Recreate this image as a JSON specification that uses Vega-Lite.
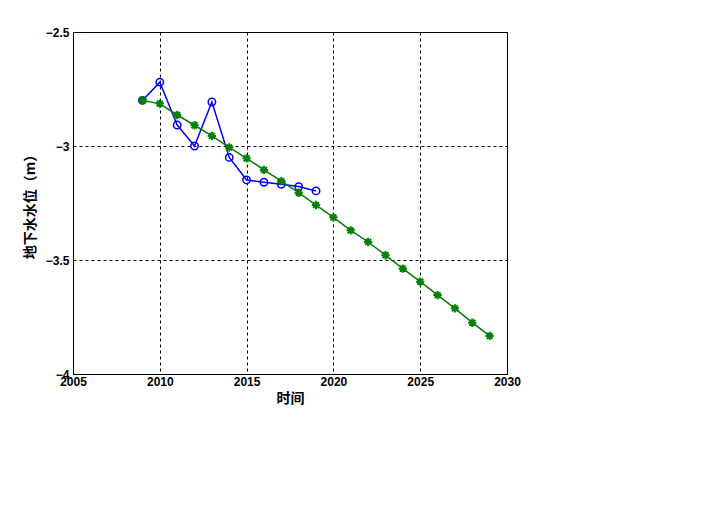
{
  "$schema": "https://vega.github.io/schema/vega-lite/v6.json",
  "autosize": "none",
  "padding": {"left": 73, "top": 32, "right": 194, "bottom": 152},
  "width": 434,
  "height": 342,
  "background": "white",
  "config": {
    "view": {"stroke": "black", "strokeWidth": 1},
    "axis": {
      "labelFont": "Liberation Sans", "labelFontWeight": "bold", "labelFontSize": 12, "labelColor": "black",
      "titleFont": "Noto Sans CJK SC", "titleFontWeight": "bold", "titleFontSize": 14, "titleColor": "black",
      "domainColor": "black", "tickColor": "black", "tickSize": 4,
      "gridColor": "black", "gridDash": [3, 3], "gridOpacity": 1, "gridWidth": 1,
      "labelFlush": false, "labelOverlap": false, "labelBound": false
    }
  },
  "datasets": {
    "obs": [
      {"year": 2009, "level": -2.80},
      {"year": 2010, "level": -2.72},
      {"year": 2011, "level": -2.908},
      {"year": 2012, "level": -3.0},
      {"year": 2013, "level": -2.807},
      {"year": 2014, "level": -3.05},
      {"year": 2015, "level": -3.149},
      {"year": 2016, "level": -3.159},
      {"year": 2017, "level": -3.168},
      {"year": 2018, "level": -3.178},
      {"year": 2019, "level": -3.197}
    ],
    "fit": [
      {"year": 2009, "level": -2.80},
      {"year": 2010, "level": -2.814},
      {"year": 2011, "level": -2.864},
      {"year": 2012, "level": -2.909},
      {"year": 2013, "level": -2.956},
      {"year": 2014, "level": -3.006},
      {"year": 2015, "level": -3.054},
      {"year": 2016, "level": -3.105},
      {"year": 2017, "level": -3.154},
      {"year": 2018, "level": -3.205},
      {"year": 2019, "level": -3.259},
      {"year": 2020, "level": -3.313},
      {"year": 2021, "level": -3.370},
      {"year": 2022, "level": -3.421},
      {"year": 2023, "level": -3.479},
      {"year": 2024, "level": -3.538},
      {"year": 2025, "level": -3.595},
      {"year": 2026, "level": -3.654},
      {"year": 2027, "level": -3.712},
      {"year": 2028, "level": -3.775},
      {"year": 2029, "level": -3.833}
    ]
  },
  "encoding": {
    "x": {"field": "year", "type": "quantitative",
      "scale": {"domain": [2005, 2030], "nice": false, "zero": false},
      "axis": {"title": "时间", "values": [2005, 2010, 2015, 2020, 2025, 2030], "format": "d", "grid": true, "ticks": false, "labelPadding": 2, "titlePadding": 4}},
    "y": {"field": "level", "type": "quantitative",
      "scale": {"domain": [-4, -2.5], "nice": false, "zero": false},
      "axis": {"title": "地下水水位（m）", "values": [-4, -3.5, -3, -2.5], "format": "~g", "grid": true, "ticks": false, "labelPadding": 4, "titlePadding": 8}}
  },
  "layer": [
    {"data": {"name": "obs"}, "mark": {"type": "line", "color": "#0000ff", "strokeWidth": 1.5}},
    {"data": {"name": "obs"}, "mark": {"type": "point", "shape": "circle", "filled": false, "color": "#0000ff", "size": 55, "strokeWidth": 1.5, "opacity": 1}},
    {"data": {"name": "fit"}, "mark": {"type": "line", "color": "#008000", "strokeWidth": 1.5}},
    {"data": {"name": "fit"}, "mark": {"type": "point", "shape": "M-1,0L1,0M0,-1L0,1M-0.7,-0.7L0.7,0.7M-0.7,0.7L0.7,-0.7", "filled": false, "fill": null, "stroke": "#008000", "size": 70, "strokeWidth": 2, "opacity": 1}}
  ]
}
